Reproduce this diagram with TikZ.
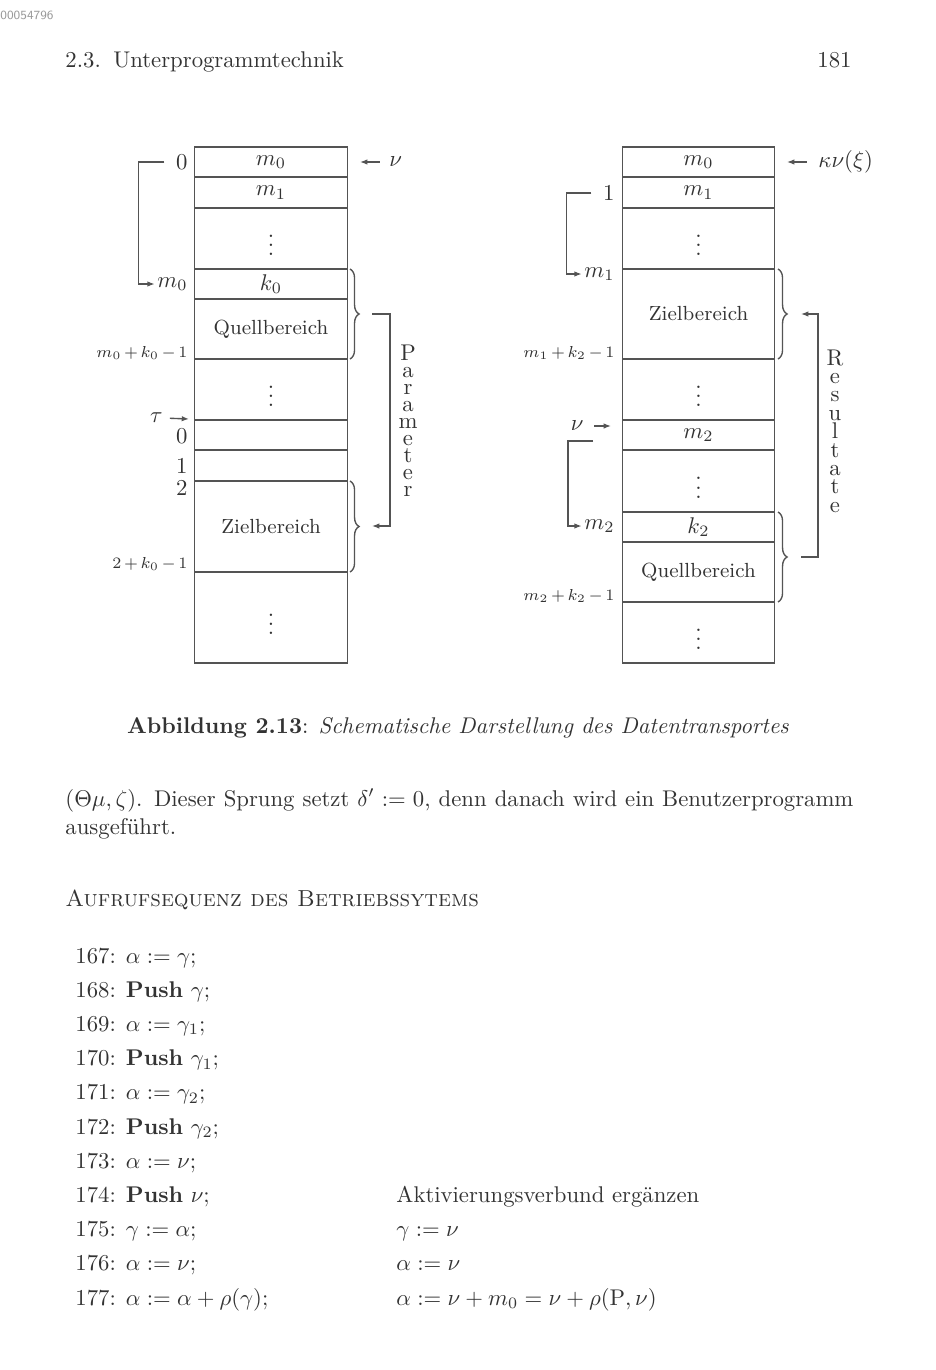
\documentclass[tikz,border=0pt]{standalone}
\usepackage{fontspec}
\usetikzlibrary{arrows.meta,decorations.pathreplacing}
\definecolor{ink}{gray}{0.2}
\definecolor{rulec}{gray}{0.33}
\newcommand{\mkcell}[5]{%
  \node[cell, minimum height={(#4-#3)*0.44pt}] (#1) at (#2,{(#3+#4)/2}) {#5};}
\newcommand{\smlab}[1]{{\scriptsize$\medmuskip=2.5mu #1$}}
\begin{document}
\begin{tikzpicture}[x=0.44pt,y=-0.44pt,
  cell/.style={draw=rulec, line width=0.6pt, minimum width=67.1pt, inner sep=0pt, text=ink},
  lbl/.style={inner sep=0pt, text=ink},
  arr/.style={draw=rulec, line width=0.6pt, -{Latex[length=3.2pt,width=2.4pt]}},
  brc/.style={draw=rulec, line width=0.6pt, decorate, decoration={brace, amplitude=4pt}},
  txt/.style={anchor=base west, inner sep=0pt, text=ink}]
\useasboundingbox[fill=white] (0,0) rectangle (935,1370);

% scan id
\node[anchor=west, inner sep=0pt, font=\sffamily\fontsize{5.5}{6}\selectfont, text=black!40] (id) at (0,15) {00054796};

% header
\node[txt] (hd) at (65,68) {2.3.\hspace{5.5pt}Unterprogrammtechnik};
\node[txt, anchor=base east] (pg) at (852,68) {181};

% ---------------- left diagram
\mkcell{La}{271}{147}{177}{$m_0$}
\mkcell{Lb}{271}{177}{208}{$m_1$}
\mkcell{Lc}{271}{208}{269}{$\vdots$}
\mkcell{Ld}{271}{269}{299}{$k_0$}
\mkcell{Le}{271}{299}{359}{\small Quellbereich}
\mkcell{Lf}{271}{359}{420}{$\vdots$}
\mkcell{Lg}{271}{420}{450}{}
\mkcell{Lh}{271}{450}{481}{}
\mkcell{Li}{271}{481}{572}{\small Zielbereich}
\mkcell{Lj}{271}{572}{663}{$\vdots$}

\node[lbl, anchor=east] (L0) at (188,162) {0};
\node[lbl, anchor=east] (Lm0) at (188,284) {$m_0$};
\node[lbl, anchor=base east] (Lmk) at (188,357) {\smlab{m_0+k_0-1}};
\node[lbl, anchor=east] (Ltau) at (163,418) {$\tau$};
\node[lbl, anchor=east] (L0b) at (188,436) {0};
\node[lbl, anchor=east] (L1) at (188,466) {1};
\node[lbl, anchor=east] (L2) at (188,488) {2};
\node[lbl, anchor=base east] (L2k) at (188,568) {\smlab{2+k_0-1}};
\node[lbl, anchor=west] (Lnu) at (389,162) {$\nu$};

\coordinate (LnuT) at (360,162);
\draw[arr, shorten <=4pt] (Lnu.west) -- (LnuT);
\draw[arr, shorten <=5pt, shorten >=1pt] (L0.west) -- ++(-37,0) |- (Lm0.west);
\coordinate (LtauT) at (189,419);
\draw[arr, shorten <=3pt] (Ltau.east) -- (LtauT);

\coordinate (LB1a) at (350,269); \coordinate (LB1b) at (350,359);
\coordinate (LB2a) at (350,481); \coordinate (LB2b) at (350,572);
\draw[brc] (LB1a) -- (LB1b);
\draw[brc] (LB2a) -- (LB2b);
\coordinate (LP1) at (372,314); \coordinate (LP2) at (372,526);
\draw[arr] (LP1) -- ++(18,0) |- (LP2);
\foreach \ch [count=\i from 0] in {P,a,r,a,m,e,t,e,r}
  \node[lbl, anchor=base] (par\i) at (408,{360+17.1*\i}) {\ch};

% ---------------- right diagram
\mkcell{Ra}{698.5}{147}{177}{$m_0$}
\mkcell{Rb}{698.5}{177}{208}{$m_1$}
\mkcell{Rc}{698.5}{208}{269}{$\vdots$}
\mkcell{Rd}{698.5}{269}{359}{\small Zielbereich}
\mkcell{Re}{698.5}{359}{420}{$\vdots$}
\mkcell{Rf}{698.5}{420}{450}{$m_2$}
\mkcell{Rg}{698.5}{450}{512}{$\vdots$}
\mkcell{Rh}{698.5}{512}{542}{$k_2$}
\mkcell{Ri}{698.5}{542}{602}{\small Quellbereich}
\mkcell{Rj}{698.5}{602}{663}{$\vdots$}

\node[lbl, anchor=west] (Rkn) at (818,162) {$\kappa\nu(\xi)$};
\coordinate (RknT) at (787,162);
\draw[arr, shorten <=5pt] (Rkn.west) -- (RknT);
\node[lbl, anchor=east] (R1) at (615,193) {1};
\node[lbl, anchor=east] (Rm1) at (615,274) {$m_1$};
\draw[arr, shorten <=5pt, shorten >=1pt] (R1.west) -- ++(-36,0) |- (Rm1.west);
\node[lbl, anchor=base east] (Rmk1) at (615,357) {\smlab{m_1+k_2-1}};
\node[lbl, anchor=east] (Rnu) at (584,426) {$\nu$};
\coordinate (RnuT) at (611,426);
\draw[arr, shorten <=4.5pt] (Rnu.east) -- (RnuT);
\node[lbl, anchor=east] (Rm2) at (615,526) {$m_2$};
\coordinate (Rs2) at (593,441);
\draw[arr, shorten >=1pt] (Rs2) -- ++(-25,0) |- (Rm2.west);
\node[lbl, anchor=base east] (Rmk2) at (615,600) {\smlab{m_2+k_2-1}};

\coordinate (RB1a) at (778,269); \coordinate (RB1b) at (778,359);
\coordinate (RB2a) at (778,512); \coordinate (RB2b) at (778,602);
\draw[brc] (RB1a) -- (RB1b);
\draw[brc] (RB2a) -- (RB2b);
\coordinate (RP1) at (801,557); \coordinate (RP2) at (801,314);
\draw[arr] (RP1) -- ++(17,0) |- (RP2);
\foreach \ch [count=\i from 0] in {R,e,s,u,l,t,a,t,e}
  \node[lbl, anchor=base] (res\i) at (835,{365+18.4*\i}) {\ch};

% ---------------- caption and text
\node[anchor=base, inner sep=0pt, text=ink] (cap) at (458,733)
  {\textbf{Abbildung 2.13}: \textit{Schematische Darstellung des Datentransportes}};
\node[txt] (p1) at (65,806) {\hbox to 346.7pt{(\(\Theta\mu,\zeta\)). Dieser Sprung setzt \(\delta' := 0\), denn danach wird ein Benutzerprogramm}};
\node[txt] (p2) at (65,834) {ausgeführt.};
\node[txt, font=\fontsize{10.2}{12}\selectfont] (sec) at (65,906) {\textsc{Aufrufsequenz des Betriebssytems}};

\foreach \t [count=\i from 0] in {
  {167: $\alpha := \gamma$;},
  {168: \textbf{Push} $\gamma$;},
  {169: $\alpha := \gamma_1$;},
  {170: \textbf{Push} $\gamma_1$;},
  {171: $\alpha := \gamma_2$;},
  {172: \textbf{Push} $\gamma_2$;},
  {173: $\alpha := \nu$;},
  {174: \textbf{Push} $\nu$;},
  {175: $\gamma := \alpha$;},
  {176: $\alpha := \nu$;},
  {177: $\alpha := \alpha + \rho(\gamma)$;}}
  \node[txt] (ln\i) at (75,{963+34.2*\i}) {\t};

\node[txt] (c174) at (396,{963+34.2*7}) {Aktivierungsverbund ergänzen};
\node[txt] (c175) at (396,{963+34.2*8}) {$\gamma := \nu$};
\node[txt] (c176) at (396,{963+34.2*9}) {$\alpha := \nu$};
\node[txt] (c177) at (396,{963+34.2*10}) {$\alpha := \nu + m_0 = \nu + \rho(\mathrm{P},\nu)$};
\end{tikzpicture}
\end{document}
